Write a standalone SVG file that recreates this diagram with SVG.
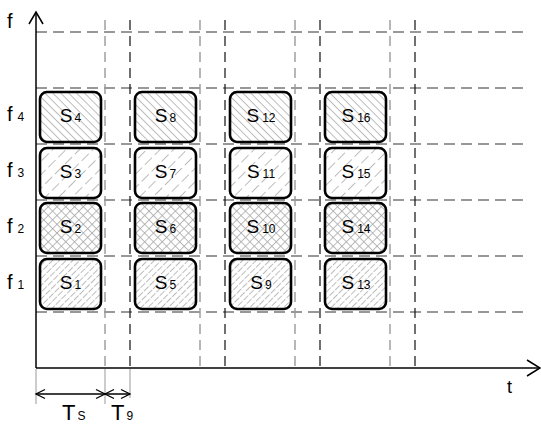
<svg xmlns="http://www.w3.org/2000/svg" width="541" height="425" viewBox="0 0 541 425">
<style>
.hd{stroke:#333;stroke-width:1.2;stroke-dasharray:11 6;fill:none}
.vg{stroke:#999;stroke-width:1.4;stroke-dasharray:10 6;fill:none}
.vb{stroke:#111;stroke-width:1.2;stroke-dasharray:10 6;fill:none}
.ax{stroke:#000;stroke-width:1.5;fill:none}
.ext{stroke:#999;stroke-width:1;fill:none}
.dim{stroke:#000;stroke-width:1.3;fill:none}
.bx{stroke:#000;stroke-width:2.6}
.bg{fill:#fff}
.lbl{font-family:"Liberation Sans",Arial,sans-serif;font-size:19px;fill:#000}
.sub{font-size:12px}
.ax-l{font-family:"Liberation Sans",Arial,sans-serif;fill:#000}
.hl{stroke:#a8a8a8;stroke-width:0.8}
</style>
<defs>
<pattern id="p4" patternUnits="userSpaceOnUse" width="6" height="5.6" patternTransform="rotate(45)"><line x1="0" y1="0.5" x2="6" y2="0.5" class="hl"/></pattern>
<pattern id="p3" patternUnits="userSpaceOnUse" width="14" height="9.5" patternTransform="rotate(-45)"><line x1="0" y1="0.5" x2="10" y2="0.5" class="hl"/></pattern>
<pattern id="p2" patternUnits="userSpaceOnUse" width="6.2" height="6.2" patternTransform="rotate(45)"><line x1="0" y1="0.5" x2="6.2" y2="0.5" class="hl"/><line x1="0.5" y1="0" x2="0.5" y2="6.2" class="hl"/></pattern>
<pattern id="p1" patternUnits="userSpaceOnUse" width="8" height="4.8" patternTransform="rotate(-45)"><line x1="0" y1="0.5" x2="6.5" y2="0.5" class="hl"/></pattern>
</defs>

<g id="grid">
<line class="hd" x1="36" y1="32" x2="527" y2="32"/>
<line class="hd" x1="36" y1="88" x2="527" y2="88"/>
<line class="hd" x1="36" y1="144" x2="527" y2="144"/>
<line class="hd" x1="36" y1="200" x2="527" y2="200"/>
<line class="hd" x1="36" y1="256" x2="527" y2="256"/>
<line class="hd" x1="36" y1="312" x2="527" y2="312"/>
<line class="vg" x1="105" y1="20" x2="105" y2="368"/>
<line class="vg" x1="200" y1="20" x2="200" y2="368"/>
<line class="vg" x1="295" y1="20" x2="295" y2="368"/>
<line class="vg" x1="390" y1="20" x2="390" y2="368"/>
<line class="vb" x1="130" y1="20" x2="130" y2="368"/>
<line class="vb" x1="225" y1="20" x2="225" y2="368"/>
<line class="vb" x1="320" y1="20" x2="320" y2="368"/>
<line class="vb" x1="415" y1="20" x2="415" y2="368"/>
</g>

<g id="connectors">
<line class="ax" x1="36" y1="368" x2="36" y2="12"/>
<polyline class="ax" points="29,24 36,12 43,24"/>
<line class="ax" x1="36" y1="368" x2="540" y2="368"/>
<polyline class="ax" points="527,360 540,368 527,376"/>
<line class="ext" x1="36" y1="369" x2="36" y2="404"/>
<line class="ext" x1="105" y1="369" x2="105" y2="404"/>
<line class="ext" x1="130" y1="369" x2="130" y2="398"/>
<line class="dim" x1="36" y1="394" x2="130" y2="394"/>
<polyline class="dim" points="45,389.5 36,394 45,398.5"/>
<polyline class="dim" points="96,389.5 105,394 96,398.5"/>
<polyline class="dim" points="114,389.5 105,394 114,398.5"/>
<polyline class="dim" points="121,389.5 130,394 121,398.5"/>
</g>

<g id="axis-labels">
<text class="ax-l" x="7" y="28" font-size="20">f</text>
<text class="ax-l" x="507" y="393" font-size="18">t</text>
<text class="ax-l" x="7" y="121" font-size="20">f<tspan font-size="12" dx="5">4</tspan></text>
<text class="ax-l" x="7" y="177" font-size="20">f<tspan font-size="12" dx="5">3</tspan></text>
<text class="ax-l" x="7" y="233" font-size="20">f<tspan font-size="12" dx="5">2</tspan></text>
<text class="ax-l" x="7" y="289" font-size="20">f<tspan font-size="12" dx="5">1</tspan></text>
<text class="ax-l" x="62" y="420" font-size="22">T<tspan font-size="12" dx="2">S</tspan></text>
<text class="ax-l" x="111" y="420" font-size="22">T<tspan font-size="12" dx="2">9</tspan></text>
</g>

<g id="s4"><rect class="bg" x="40" y="92" width="61" height="50" rx="7"/><rect class="bx" fill="url(#p4)" x="40" y="92" width="61" height="50" rx="7"/><text class="lbl" x="70.5" y="122" text-anchor="middle">S<tspan class="sub" dx="2">4</tspan></text></g>
<g id="s3"><rect class="bg" x="40" y="148" width="61" height="50" rx="7"/><rect class="bx" fill="url(#p3)" x="40" y="148" width="61" height="50" rx="7"/><text class="lbl" x="70.5" y="178" text-anchor="middle">S<tspan class="sub" dx="2">3</tspan></text></g>
<g id="s2"><rect class="bg" x="40" y="203" width="61" height="50" rx="7"/><rect class="bx" fill="url(#p2)" x="40" y="203" width="61" height="50" rx="7"/><text class="lbl" x="70.5" y="233" text-anchor="middle">S<tspan class="sub" dx="2">2</tspan></text></g>
<g id="s1"><rect class="bg" x="40" y="259" width="61" height="50" rx="7"/><rect class="bx" fill="url(#p1)" x="40" y="259" width="61" height="50" rx="7"/><text class="lbl" x="70.5" y="289" text-anchor="middle">S<tspan class="sub" dx="2">1</tspan></text></g>

<g id="s8"><rect class="bg" x="135" y="92" width="61" height="50" rx="7"/><rect class="bx" fill="url(#p4)" x="135" y="92" width="61" height="50" rx="7"/><text class="lbl" x="165.5" y="122" text-anchor="middle">S<tspan class="sub" dx="2">8</tspan></text></g>
<g id="s7"><rect class="bg" x="135" y="148" width="61" height="50" rx="7"/><rect class="bx" fill="url(#p3)" x="135" y="148" width="61" height="50" rx="7"/><text class="lbl" x="165.5" y="178" text-anchor="middle">S<tspan class="sub" dx="2">7</tspan></text></g>
<g id="s6"><rect class="bg" x="135" y="203" width="61" height="50" rx="7"/><rect class="bx" fill="url(#p2)" x="135" y="203" width="61" height="50" rx="7"/><text class="lbl" x="165.5" y="233" text-anchor="middle">S<tspan class="sub" dx="2">6</tspan></text></g>
<g id="s5"><rect class="bg" x="135" y="259" width="61" height="50" rx="7"/><rect class="bx" fill="url(#p1)" x="135" y="259" width="61" height="50" rx="7"/><text class="lbl" x="165.5" y="289" text-anchor="middle">S<tspan class="sub" dx="2">5</tspan></text></g>

<g id="s12"><rect class="bg" x="230" y="92" width="61" height="50" rx="7"/><rect class="bx" fill="url(#p4)" x="230" y="92" width="61" height="50" rx="7"/><text class="lbl" x="261" y="122" text-anchor="middle">S<tspan class="sub" dx="3">12</tspan></text></g>
<g id="s11"><rect class="bg" x="230" y="148" width="61" height="50" rx="7"/><rect class="bx" fill="url(#p3)" x="230" y="148" width="61" height="50" rx="7"/><text class="lbl" x="261" y="178" text-anchor="middle">S<tspan class="sub" dx="3">11</tspan></text></g>
<g id="s10"><rect class="bg" x="230" y="203" width="61" height="50" rx="7"/><rect class="bx" fill="url(#p2)" x="230" y="203" width="61" height="50" rx="7"/><text class="lbl" x="261" y="233" text-anchor="middle">S<tspan class="sub" dx="3">10</tspan></text></g>
<g id="s9"><rect class="bg" x="230" y="259" width="61" height="50" rx="7"/><rect class="bx" fill="url(#p1)" x="230" y="259" width="61" height="50" rx="7"/><text class="lbl" x="261" y="289" text-anchor="middle">S<tspan class="sub" dx="2">9</tspan></text></g>

<g id="s16"><rect class="bg" x="325" y="92" width="61" height="50" rx="7"/><rect class="bx" fill="url(#p4)" x="325" y="92" width="61" height="50" rx="7"/><text class="lbl" x="356" y="122" text-anchor="middle">S<tspan class="sub" dx="3">16</tspan></text></g>
<g id="s15"><rect class="bg" x="325" y="148" width="61" height="50" rx="7"/><rect class="bx" fill="url(#p3)" x="325" y="148" width="61" height="50" rx="7"/><text class="lbl" x="356" y="178" text-anchor="middle">S<tspan class="sub" dx="3">15</tspan></text></g>
<g id="s14"><rect class="bg" x="325" y="203" width="61" height="50" rx="7"/><rect class="bx" fill="url(#p2)" x="325" y="203" width="61" height="50" rx="7"/><text class="lbl" x="356" y="233" text-anchor="middle">S<tspan class="sub" dx="3">14</tspan></text></g>
<g id="s13"><rect class="bg" x="325" y="259" width="61" height="50" rx="7"/><rect class="bx" fill="url(#p1)" x="325" y="259" width="61" height="50" rx="7"/><text class="lbl" x="356" y="289" text-anchor="middle">S<tspan class="sub" dx="3">13</tspan></text></g>
</svg>
